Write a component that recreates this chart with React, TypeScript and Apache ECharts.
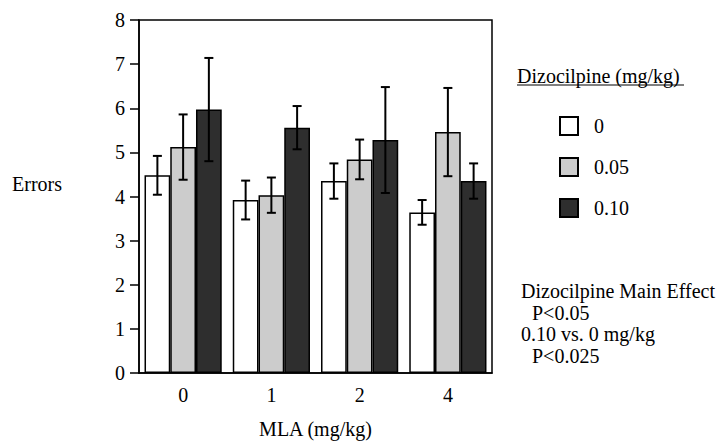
import React, { useEffect, useRef } from "react";
import * as echarts from "echarts";

const categories = ["0", "1", "2", "4"];
const seriesNames = ["0", "0.05", "0.10"];
const dose0 = [4.48, 3.92, 4.35, 3.64];
const dose0Err = [0.44, 0.44, 0.4, 0.28];
const dose005 = [5.12, 4.03, 4.84, 5.46];
const dose005Err = [0.74, 0.4, 0.45, 1.0];
const dose010 = [5.97, 5.56, 5.28, 4.35];
const dose010Err = [1.17, 0.49, 1.2, 0.4];
const yTicks = [0, 8, 1];
const statLines = ["Dizocilpine Main Effect", "P<0.05", "0.10 vs. 0 mg/kg", "P<0.025"];

const FONT = "Liberation Serif";
const FS = 20;
const colors = ["#ffffff", "#cccccc", "#2e2e2e"];
const CAT_GAP = 0.125;

export default function App() {
  const ref = useRef<HTMLDivElement>(null);
  useEffect(() => {
    document.body.style.margin = "0";
    const chart = echarts.init(ref.current!, null, { renderer: "svg" });
    const values = [dose0, dose005, dose010];
    const errs = [dose0Err, dose005Err, dose010Err];

    const barSeries = values.map((v, i) => ({
      name: seriesNames[i],
      type: "bar",
      data: v,
      barGap: "0%",
      barCategoryGap: "12.5%",
      itemStyle: { color: colors[i], borderColor: "#000", borderWidth: 1.5 },
      z: 2,
    }));

    const errSeries = values.map((v, i) => ({
      name: "err" + i,
      type: "custom",
      z: 5,
      data: v.map((val, k) => [k, val - errs[i][k], val + errs[i][k]]),
      encode: { x: 0, y: [1, 2] },
      renderItem: (params: any, api: any) => {
        const k = api.value(0);
        const lo = api.coord([k, api.value(1)]);
        const hi = api.coord([k, api.value(2)]);
        const band = api.size([1, 0])[0];
        const bw = (band * (1 - CAT_GAP)) / 3;
        const x = lo[0] + (i - 1) * bw;
        const cap = 4.5;
        const style = { stroke: "#000", lineWidth: 2 };
        return {
          type: "group",
          children: [
            { type: "line", shape: { x1: x, y1: lo[1], x2: x, y2: hi[1] }, style },
            { type: "line", shape: { x1: x - cap, y1: lo[1], x2: x + cap, y2: lo[1] }, style },
            { type: "line", shape: { x1: x - cap, y1: hi[1], x2: x + cap, y2: hi[1] }, style },
          ],
        };
      },
    }));

    const ts = { fontFamily: FONT, fontSize: FS, fill: "#000", verticalAlign: "middle", align: "left" };
    const stats = statLines.map((t, i) => ({
      type: "text",
      x: i % 2 === 1 ? 532 : 521,
      y: 291 + i * 21.5,
      style: { ...ts, text: t },
    }));

    chart.setOption({
      animation: false,
      backgroundColor: "#fff",
      textStyle: { fontFamily: FONT },
      grid: {
        left: 139,
        top: 20,
        right: 229,
        bottom: 72,
        show: true,
        borderColor: "#000",
        borderWidth: 1.5,
        outerBoundsMode: "none",
        containLabel: false,
      },
      xAxis: {
        type: "category",
        data: categories,
        name: "MLA (mg/kg)",
        nameLocation: "middle",
        nameGap: 46,
        nameTextStyle: { fontFamily: FONT, fontSize: FS, color: "#000" },
        axisLine: { lineStyle: { color: "#000", width: 1.5 } },
        axisTick: { alignWithLabel: true, length: 8, lineStyle: { color: "#000", width: 1.5 } },
        axisLabel: { fontFamily: FONT, fontSize: FS, color: "#000", margin: 12 },
      },
      yAxis: {
        type: "value",
        min: yTicks[0],
        max: yTicks[1],
        interval: yTicks[2],
        splitLine: { show: false },
        axisLine: { show: true, lineStyle: { color: "#000", width: 1.5 } },
        axisTick: { show: true, length: 9, lineStyle: { color: "#000", width: 1.5 } },
        axisLabel: { fontFamily: FONT, fontSize: FS, color: "#000", margin: 14 },
      },
      legend: {
        data: seriesNames,
        orient: "vertical",
        left: 554,
        top: 111,
        itemWidth: 18,
        itemHeight: 18,
        itemGap: 21,
        icon: "rect",
        textStyle: { fontFamily: FONT, fontSize: FS, color: "#000", padding: [0, 0, 0, 11] },
        selectedMode: false,
      },
      graphic: [
        { type: "text", x: 12, y: 184, style: { ...ts, text: "Errors" } },
        { type: "text", x: 517, y: 76, style: { ...ts, text: "Dizocilpine (mg/kg)" } },
        { type: "line", shape: { x1: 517, y1: 85, x2: 684, y2: 85 }, style: { stroke: "#000", lineWidth: 1 } },
        ...stats,
      ],
      series: [...barSeries, ...errSeries],
    });
    return () => chart.dispose();
  }, []);
  return <div ref={ref} style={{ width: 721, height: 445 }} />;
}
